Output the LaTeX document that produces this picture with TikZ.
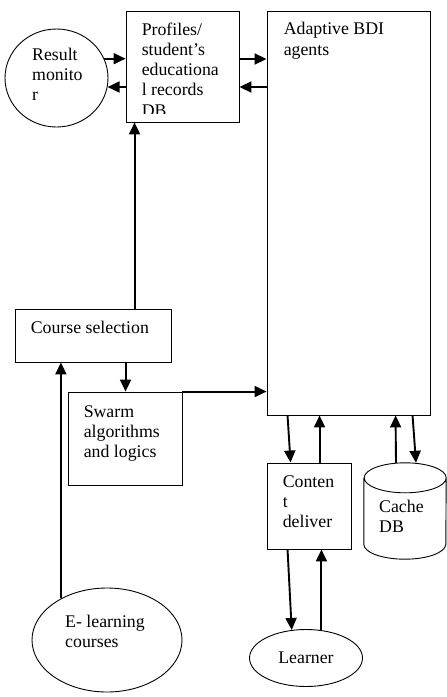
\documentclass[tikz,border=0pt]{standalone}
\usepackage{fontspec}
\setmainfont{Liberation Serif}
\usetikzlibrary{shapes.geometric,arrows.meta}
\begin{document}
\begin{tikzpicture}[x=1pt,y=-1pt,
  every node/.style={font=\fontsize{17.8}{20.3}\selectfont},
  box/.style={draw,line width=0.9pt,inner sep=0pt},
  txt/.style={anchor=north west,inner sep=0pt,align=left},
  arr/.style={-{Triangle[length=12pt,width=11pt]},line width=1.9pt}]
\useasboundingbox (0,0) rectangle (447,697);
\node[box,ellipse,minimum width=103pt,minimum height=98pt] (monitor) at (56.5,78) {};
\node[box,minimum width=113pt,minimum height=111pt] (profiles) at (182.5,66.5) {};
\node[box,minimum width=163pt,minimum height=404pt] (adaptive) at (348.5,213) {};
\node[box,minimum width=156pt,minimum height=53pt] (course) at (93,335.5) {};
\node[box,minimum width=114pt,minimum height=93pt] (swarm) at (125,438.5) {};
\node[box,minimum width=84pt,minimum height=86pt] (content) at (309,506) {};
\node[inner sep=0pt,minimum width=82pt,minimum height=96pt] (cache) at (405,511) {};
\node[box,ellipse,minimum width=150pt,minimum height=104pt] (elearn) at (107,640) {};
\node[box,ellipse,minimum width=113pt,minimum height=57pt] (learner) at (306,658) {Learner};

% cache DB drum
\draw[line width=0.9pt] ([yshift=-15pt]cache.north west) -- ([yshift=15pt]cache.south west)
  arc[start angle=180,end angle=360,x radius=41pt,y radius=15pt]
  -- ([yshift=-15pt]cache.north east)
  arc[start angle=0,end angle=360,x radius=41pt,y radius=15pt];

\node[txt] (monitortext) at ([shift={(-24.5,-30.2)}]monitor.center) {Result\\monito\\r};
\begin{scope}
\clip (profiles.north west) rectangle ([yshift=9pt]profiles.south east);
\node[txt] (profilestext) at ([shift={(16,11.8)}]profiles.north west) {Profiles/\\student's\\educationa\\l records\\DB};
\end{scope}
\node[txt] (adaptivetext) at ([shift={(17,11.8)}]adaptive.north west) {Adaptive BDI\\agents};
\node[txt] (coursetext) at ([shift={(16,12.8)}]course.north west) {Course selection};
\node[txt] (swarmtext) at ([shift={(16,13.8)}]swarm.north west) {Swarm\\algorithms\\and logics};
\node[txt] (contenttext) at ([shift={(16,12.8)}]content.north west) {Conten\\t\\deliver};
\node[txt] (cachetext) at ([shift={(-26,-11.2)}]cache.center) {Cache\\DB};
\node[txt] (elearntext) at ([shift={(-42,-25.2)}]elearn.center) {E- learning\\courses};

\coordinate (upper) at ([yshift=7.5pt]profiles.east);
\coordinate (lower) at ([yshift=-20.5pt]profiles.east);
\draw[arr] (monitor.22) -- (monitor.22 -| profiles.west);
\draw[arr] (monitor.350 -| profiles.west) -- (monitor.350);
\draw[arr] (upper) -- (upper -| adaptive.west);
\draw[arr] (lower -| adaptive.west) -- (lower);
\draw[arr] ([xshift=120pt]course.north west) -- ([xshift=9pt]profiles.south west);
\draw[arr] ([xshift=111pt]course.south west) -- ([xshift=58pt]swarm.north west);
\draw[arr] (swarm.north east) -- (swarm.north east -| adaptive.west);
\draw[arr] (elearn.138) -- (elearn.138 |- course.south);
\draw[arr] ([xshift=21pt]adaptive.south west) -- ([xshift=24pt]content.north west);
\draw[arr] ([xshift=53pt]content.north west) -- ([xshift=53pt]adaptive.south west);
\draw[arr] ([xshift=-9pt]cache.north) -- ([xshift=129pt]adaptive.south west);
\draw[arr] ([xshift=146pt]adaptive.south west) -- ([xshift=11pt]cache.north);
\draw[arr] ([xshift=21pt]content.south west) -- (learner.117);
\draw[arr] (learner.61) -- (learner.61 |- content.south);
\end{tikzpicture}
\end{document}
